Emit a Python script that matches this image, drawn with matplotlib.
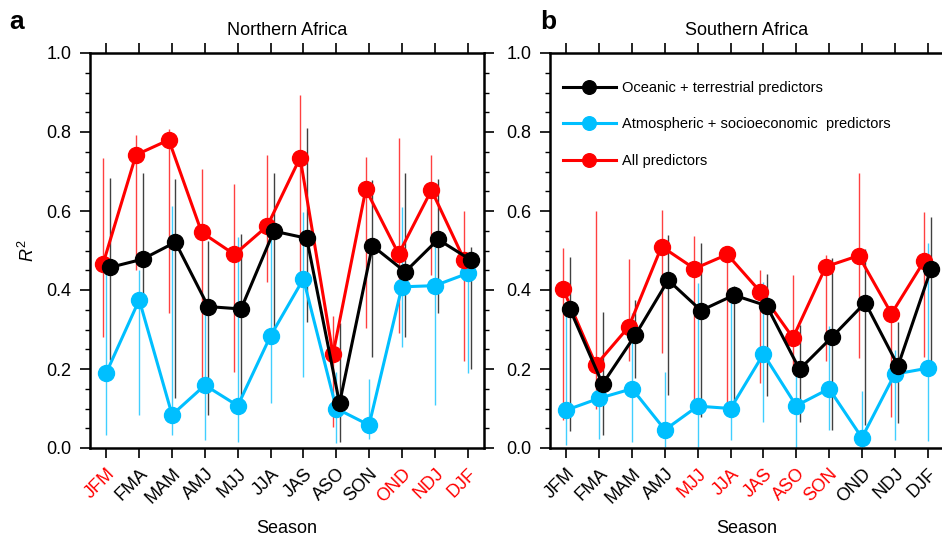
import matplotlib
matplotlib.use('Agg')
import matplotlib.pyplot as plt
import numpy as np
from matplotlib.ticker import MultipleLocator, FormatStrFormatter

plt.rcParams['font.family'] = ['Liberation Sans', 'DejaVu Sans']
plt.rcParams['mathtext.fontset'] = 'custom'
plt.rcParams['mathtext.rm'] = 'Liberation Sans'
plt.rcParams['mathtext.it'] = 'Liberation Sans:italic'

seasons = ['JFM', 'FMA', 'MAM', 'AMJ', 'MJJ', 'JJA', 'JAS', 'ASO', 'SON', 'OND', 'NDJ', 'DJF']

# Northern Africa
n_ocean = [0.457, 0.478, 0.521, 0.358, 0.352, 0.549, 0.531, 0.113, 0.512, 0.446, 0.528, 0.476]
n_ocean_lo = [0.223, 0.38, 0.126, 0.084, 0.126, 0.265, 0.320, 0.016, 0.230, 0.282, 0.343, 0.199]
n_ocean_hi = [0.683, 0.697, 0.680, 0.525, 0.542, 0.697, 0.809, 0.316, 0.678, 0.695, 0.680, 0.51]
n_atm = [0.191, 0.375, 0.084, 0.159, 0.107, 0.284, 0.428, 0.100, 0.058, 0.408, 0.411, 0.442]
n_atm_lo = [0.033, 0.084, 0.033, 0.020, 0.016, 0.113, 0.180, 0.012, 0.024, 0.256, 0.109, 0.191]
n_atm_hi = [0.46, 0.45, 0.613, 0.36, 0.535, 0.544, 0.598, 0.193, 0.174, 0.609, 0.510, 0.476]
n_all = [0.467, 0.742, 0.780, 0.546, 0.490, 0.562, 0.735, 0.237, 0.655, 0.491, 0.653, 0.476]
n_all_lo = [0.282, 0.451, 0.343, 0.172, 0.193, 0.419, 0.44, 0.054, 0.303, 0.290, 0.438, 0.219]
n_all_hi = [0.733, 0.792, 0.807, 0.706, 0.668, 0.743, 0.894, 0.334, 0.736, 0.784, 0.742, 0.601]
n_red_labels = ['JFM', 'OND', 'NDJ', 'DJF']

# Southern Africa
s_ocean = [0.353, 0.162, 0.286, 0.425, 0.348, 0.387, 0.360, 0.199, 0.282, 0.368, 0.208, 0.452]
s_ocean_lo = [0.044, 0.033, 0.176, 0.134, 0.078, 0.088, 0.132, 0.067, 0.046, 0.058, 0.064, 0.202]
s_ocean_hi = [0.483, 0.345, 0.375, 0.539, 0.520, 0.41, 0.441, 0.311, 0.480, 0.503, 0.320, 0.584]
s_atm = [0.096, 0.126, 0.150, 0.046, 0.106, 0.100, 0.238, 0.107, 0.150, 0.026, 0.187, 0.202]
s_atm_lo = [0.008, 0.024, 0.016, 0.003, 0.003, 0.020, 0.067, 0.0, 0.046, 0.0, 0.020, 0.018]
s_atm_hi = [0.35, 0.20, 0.341, 0.193, 0.417, 0.387, 0.421, 0.19, 0.309, 0.145, 0.248, 0.520]
s_all = [0.402, 0.210, 0.307, 0.510, 0.454, 0.490, 0.396, 0.279, 0.459, 0.487, 0.340, 0.474]
s_all_lo = [0.071, 0.098, 0.221, 0.241, 0.089, 0.09, 0.164, 0.197, 0.221, 0.227, 0.079, 0.230]
s_all_hi = [0.506, 0.601, 0.478, 0.603, 0.537, 0.51, 0.451, 0.438, 0.489, 0.695, 0.36, 0.598]
s_red_labels = ['MJJ', 'JJA', 'JAS', 'ASO', 'SON']

BLUE = '#00bfff'
RED = '#ff0000'
BLACK = '#000000'


def draw_panel(ax, ocean, ocean_lo, ocean_hi, atm, atm_lo, atm_hi,
               allp, all_lo, all_hi, red_labels, title):
    x = np.arange(len(seasons))
    series = [
        (atm, atm_lo, atm_hi, BLUE, 0.0, 'Atmospheric + socioeconomic  predictors'),
        (allp, all_lo, all_hi, RED, -0.1, 'All predictors'),
        (ocean, ocean_lo, ocean_hi, BLACK, 0.1, 'Oceanic + terrestrial predictors'),
    ]
    handles = {}
    for z, (vals, lo, hi, col, off, lab) in enumerate(series):
        ax.vlines(x + off, lo, hi, color=col, lw=1.0, alpha=0.75, zorder=1 + z)
        h, = ax.plot(x + off, vals, '-o', color=col, lw=2.2, ms=11.5,
                     label=lab, zorder=5 + z)
        handles[lab] = h

    ax.set_xlim(-0.5, 11.5)
    ax.set_ylim(0, 1.0)
    ax.set_xticks(x)
    ax.set_xticklabels(seasons, rotation=45, ha='right', va='top',
                       rotation_mode='anchor', fontsize=13)
    for t in ax.get_xticklabels():
        if t.get_text() in red_labels:
            t.set_color(RED)
    ax.yaxis.set_major_locator(MultipleLocator(0.2))
    ax.yaxis.set_minor_locator(MultipleLocator(0.05))
    ax.yaxis.set_major_formatter(FormatStrFormatter('%.1f'))
    ax.tick_params(axis='both', which='major', direction='out', length=7.5,
                   width=1.2, labelsize=13, pad=6)
    ax.tick_params(axis='x', which='major', top=True, pad=5)
    ax.tick_params(axis='y', which='both', right=True)
    ax.tick_params(axis='y', which='minor', direction='out', length=3.8, width=1.0)
    for s in ax.spines.values():
        s.set_linewidth(1.8)
    ax.set_xlabel('Season', fontsize=13, labelpad=9)
    ax.set_title(title, fontsize=13, pad=13)
    return handles


fig = plt.figure(figsize=(9.42, 5.35), dpi=100)
ax1 = fig.add_axes([90 / 942, 87 / 535, 394 / 942, 395 / 535])
ax2 = fig.add_axes([550 / 942, 87 / 535, 394 / 942, 395 / 535])

draw_panel(ax1, n_ocean, n_ocean_lo, n_ocean_hi, n_atm, n_atm_lo, n_atm_hi,
           n_all, n_all_lo, n_all_hi, n_red_labels, 'Northern Africa')
h = draw_panel(ax2, s_ocean, s_ocean_lo, s_ocean_hi, s_atm, s_atm_lo, s_atm_hi,
               s_all, s_all_lo, s_all_hi, s_red_labels, 'Southern Africa')
ax1.set_ylabel(r'$R^2$', fontsize=13, labelpad=6)

fig.text(9 / 942, 1 - 29 / 535, 'a', fontsize=19, fontweight='bold',
         ha='left', va='baseline')
fig.text(540 / 942, 1 - 29 / 535, 'b', fontsize=19, fontweight='bold',
         ha='left', va='baseline')

order = ['Oceanic + terrestrial predictors',
         'Atmospheric + socioeconomic  predictors', 'All predictors']
ax2.legend([h[k] for k in order], order, loc='upper left',
           bbox_to_anchor=(0.033, 0.93), frameon=False, fontsize=10.5,
           handlelength=3.6, handletextpad=0.45, labelspacing=1.55,
           borderpad=0, borderaxespad=0, markerscale=0.85)

plt.savefig('out.png', dpi=100)
plt.close()
